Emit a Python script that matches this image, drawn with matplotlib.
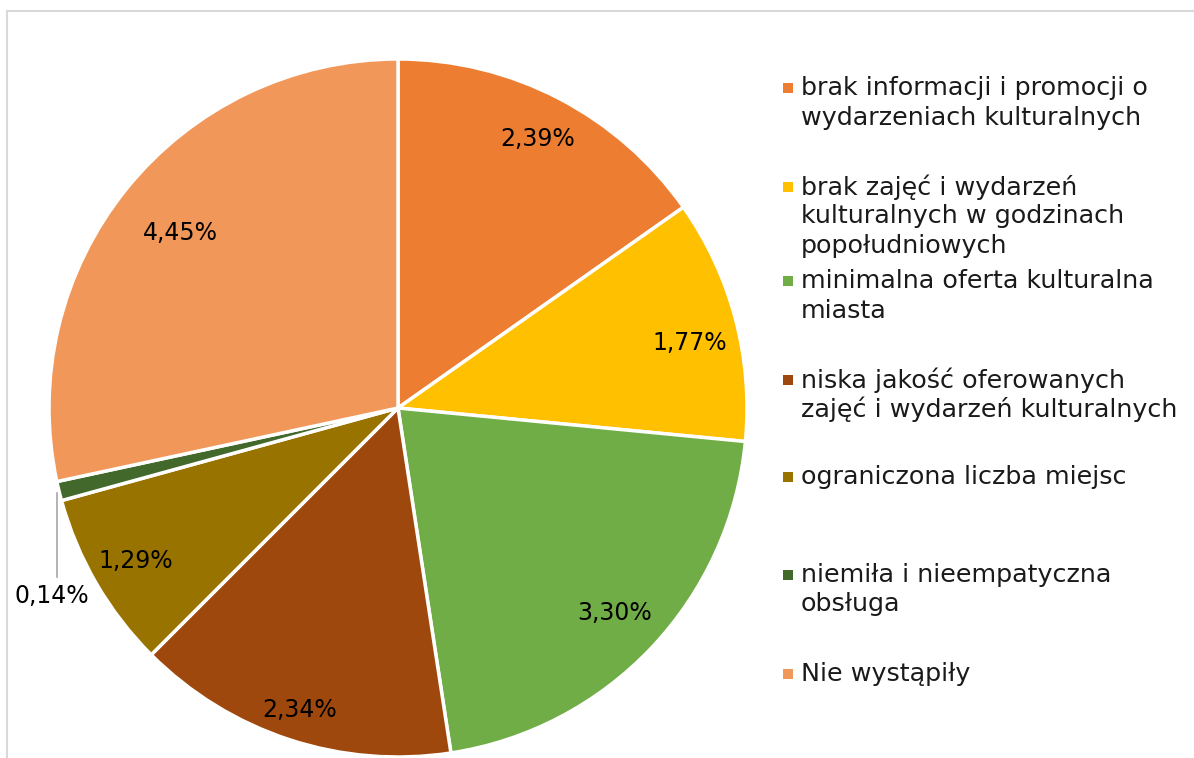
import numpy as np
import matplotlib
matplotlib.use("Agg")
import matplotlib.pyplot as plt
from matplotlib.lines import Line2D
from matplotlib.patches import Rectangle

plt.rcParams['font.family'] = ['DejaVu Sans']

# Share of respondents per barrier (percent)
categories = [
    "brak informacji i promocji o wydarzeniach kulturalnych",
    "brak zajęć i wydarzeń kulturalnych w godzinach popołudniowych",
    "minimalna oferta kulturalna miasta",
    "niska jakość oferowanych zajęć i wydarzeń kulturalnych",
    "ograniczona liczba miejsc",
    "niemiła i nieempatyczna obsługa",
    "Nie wystąpiły",
]
values = [2.39, 1.77, 3.30, 2.34, 1.29, 0.14, 4.45]
value_labels = ["2,39%", "1,77%", "3,30%", "2,34%", "1,29%", "0,14%", "4,45%"]
legend_lines = [
    ["brak informacji i promocji o", "wydarzeniach kulturalnych"],
    ["brak zajęć i wydarzeń", "kulturalnych w godzinach", "popołudniowych"],
    ["minimalna oferta kulturalna", "miasta"],
    ["niska jakość oferowanych", "zajęć i wydarzeń kulturalnych"],
    ["ograniczona liczba miejsc"],
    ["niemiła i nieempatyczna", "obsługa"],
    ["Nie wystąpiły"],
]
colors = ["#ED7D31", "#FFC000", "#70AD47", "#9E480E", "#997300", "#43682B", "#F1975A"]

W, H = 1194, 758
fig = plt.figure(figsize=(W / 100, H / 100), dpi=100)

# Outer chart-area frame (only top and left edges fall inside the canvas)
fig.add_artist(Line2D([7 / W, 1.0], [1 - 11 / H, 1 - 11 / H], transform=fig.transFigure,
                      color="#d9d9d9", lw=1.5))
fig.add_artist(Line2D([7 / W, 7 / W], [1 - 11 / H, 0.0], transform=fig.transFigure,
                      color="#d9d9d9", lw=1.5))

# Pie axes: centre (398, 408) px, radius 349 px
cx, cy, R = 398, 408, 349
ax = fig.add_axes([(cx - R) / W, (H - cy - R) / H, 2 * R / W, 2 * R / H])

wedges, _ = ax.pie(values, colors=colors, startangle=90, counterclock=False, radius=1.0,
                   wedgeprops=dict(edgecolor="white", linewidth=2.5))
ax.set_xlim(-1, 1)
ax.set_ylim(-1, 1)
ax.set_aspect("equal")
ax.axis("off")

# Data-label placement inside each wedge: radial fraction and angular nudge (deg)
label_r = [0.87, 0.857, 0.855, 0.91, 0.87, 1.0, 0.80]
label_shift = [0.0, -2.2, 0.0, 0.0, 0.0, 0.0, 0.0]
for i, w in enumerate(wedges):
    mid = np.deg2rad((w.theta1 + w.theta2) / 2 + label_shift[i])
    if i == 5:
        x0, y0 = np.cos(mid), np.sin(mid)
        ax.plot([x0 - 0.005, x0 - 0.005], [y0 - 0.005, y0 - 0.245], color="#a6a6a6", lw=1.2,
                clip_on=False)
        ax.text(x0 - 0.02, y0 - 0.30, value_labels[i], ha="center", va="center",
                fontsize=17, color="#000000", clip_on=False)
        continue
    r = label_r[i]
    ax.text(r * np.cos(mid), r * np.sin(mid), value_labels[i], ha="center", va="center",
            fontsize=17, color="#000000")

# Legend
entry_y = [88, 187, 281, 380, 477, 575, 674]
line_gap = 29.5
for lines, y, c in zip(legend_lines, entry_y, colors):
    fig.add_artist(Rectangle((783 / W, 1 - (y + 5) / H), 10 / W, 10 / H,
                             transform=fig.transFigure, facecolor=c, edgecolor="none"))
    for k, t in enumerate(lines):
        fig.text(801 / W, 1 - (y + k * line_gap) / H, t, ha="left", va="center",
                 fontsize=18.3, color="#1a1a1a")

fig.savefig("out.png", dpi=100)
